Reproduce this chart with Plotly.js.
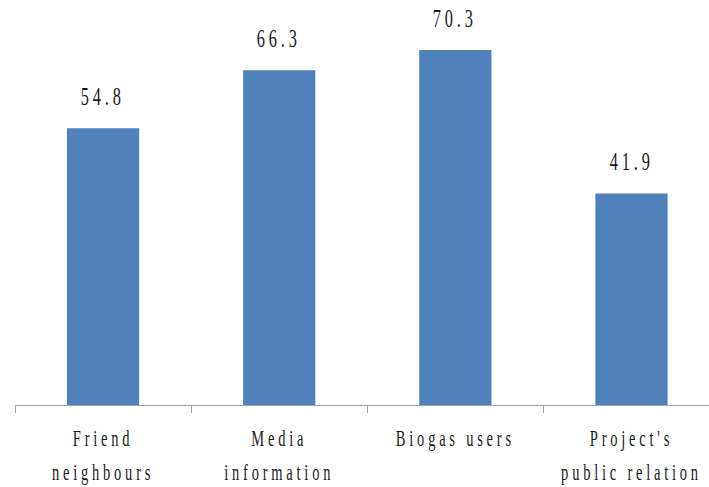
<!DOCTYPE html>
<html><head><meta charset="utf-8">
<script src="https://cdn.plot.ly/plotly-3.0.1.min.js"></script>
<style>
body{margin:0;padding:0;background:#fff;}
#chart g.xtick, #chart g.annotation{
  transform-box: fill-box; transform-origin: center; transform: scaleX(0.63);
}
#chart g.xtick text, #chart text.annotation-text{letter-spacing:6px;}
</style></head>
<body><div id="chart" style="width:709px;height:487px;"></div>
<script>
const categories = ["Friend<br>neighbours", "Media<br>information", "Biogas users", "Project's<br>public relation"];
const values = [54.8, 66.3, 70.3, 41.9];
const valueLabels = ["54.8", "66.3", "70.3", "41.9"];

const fontFam = '"Liberation Serif", "Times New Roman", serif';

const trace = {
  type: 'bar', x: categories, y: values,
  marker: {color: '#4f81bd'},
  hoverinfo: 'none'
};
const annotations = categories.map((c, i) => ({
  x: c, y: values[i], text: valueLabels[i], showarrow: false,
  yanchor: 'bottom', yshift: 15,
  font: {family: fontFam, size: 26, color: '#1a1a1a'}
}));
const layout = {
  width: 709, height: 487,
  margin: {l: 15, r: 0, t: 1, b: 82},
  paper_bgcolor: '#fff', plot_bgcolor: '#fff',
  bargap: 0.59,
  showlegend: false,
  xaxis: {
    type: 'category', range: [-0.5, 3.44],
    tickson: 'boundaries', ticks: 'outside', ticklen: 7, tickcolor: '#a0a0a0', tickwidth: 1,
    showline: true, linecolor: '#a0a0a0', linewidth: 1,
    showgrid: false, zeroline: false,
    tickfont: {family: fontFam, size: 23, color: '#1a1a1a'},
    ticklabelstandoff: 12
  },
  yaxis: {
    range: [0, 80], visible: false, showgrid: false, zeroline: false
  },
  annotations: annotations
};
Plotly.newPlot('chart', [trace], layout, {displayModeBar: false, staticPlot: true}).then(function(gd){
  gd.querySelectorAll('g.xtick text tspan.line').forEach(function(t){
    const dy = t.getAttribute('dy');
    if (dy && parseFloat(dy) > 0) t.setAttribute('dy', '1.5em');
  });
});
</script></body></html>
